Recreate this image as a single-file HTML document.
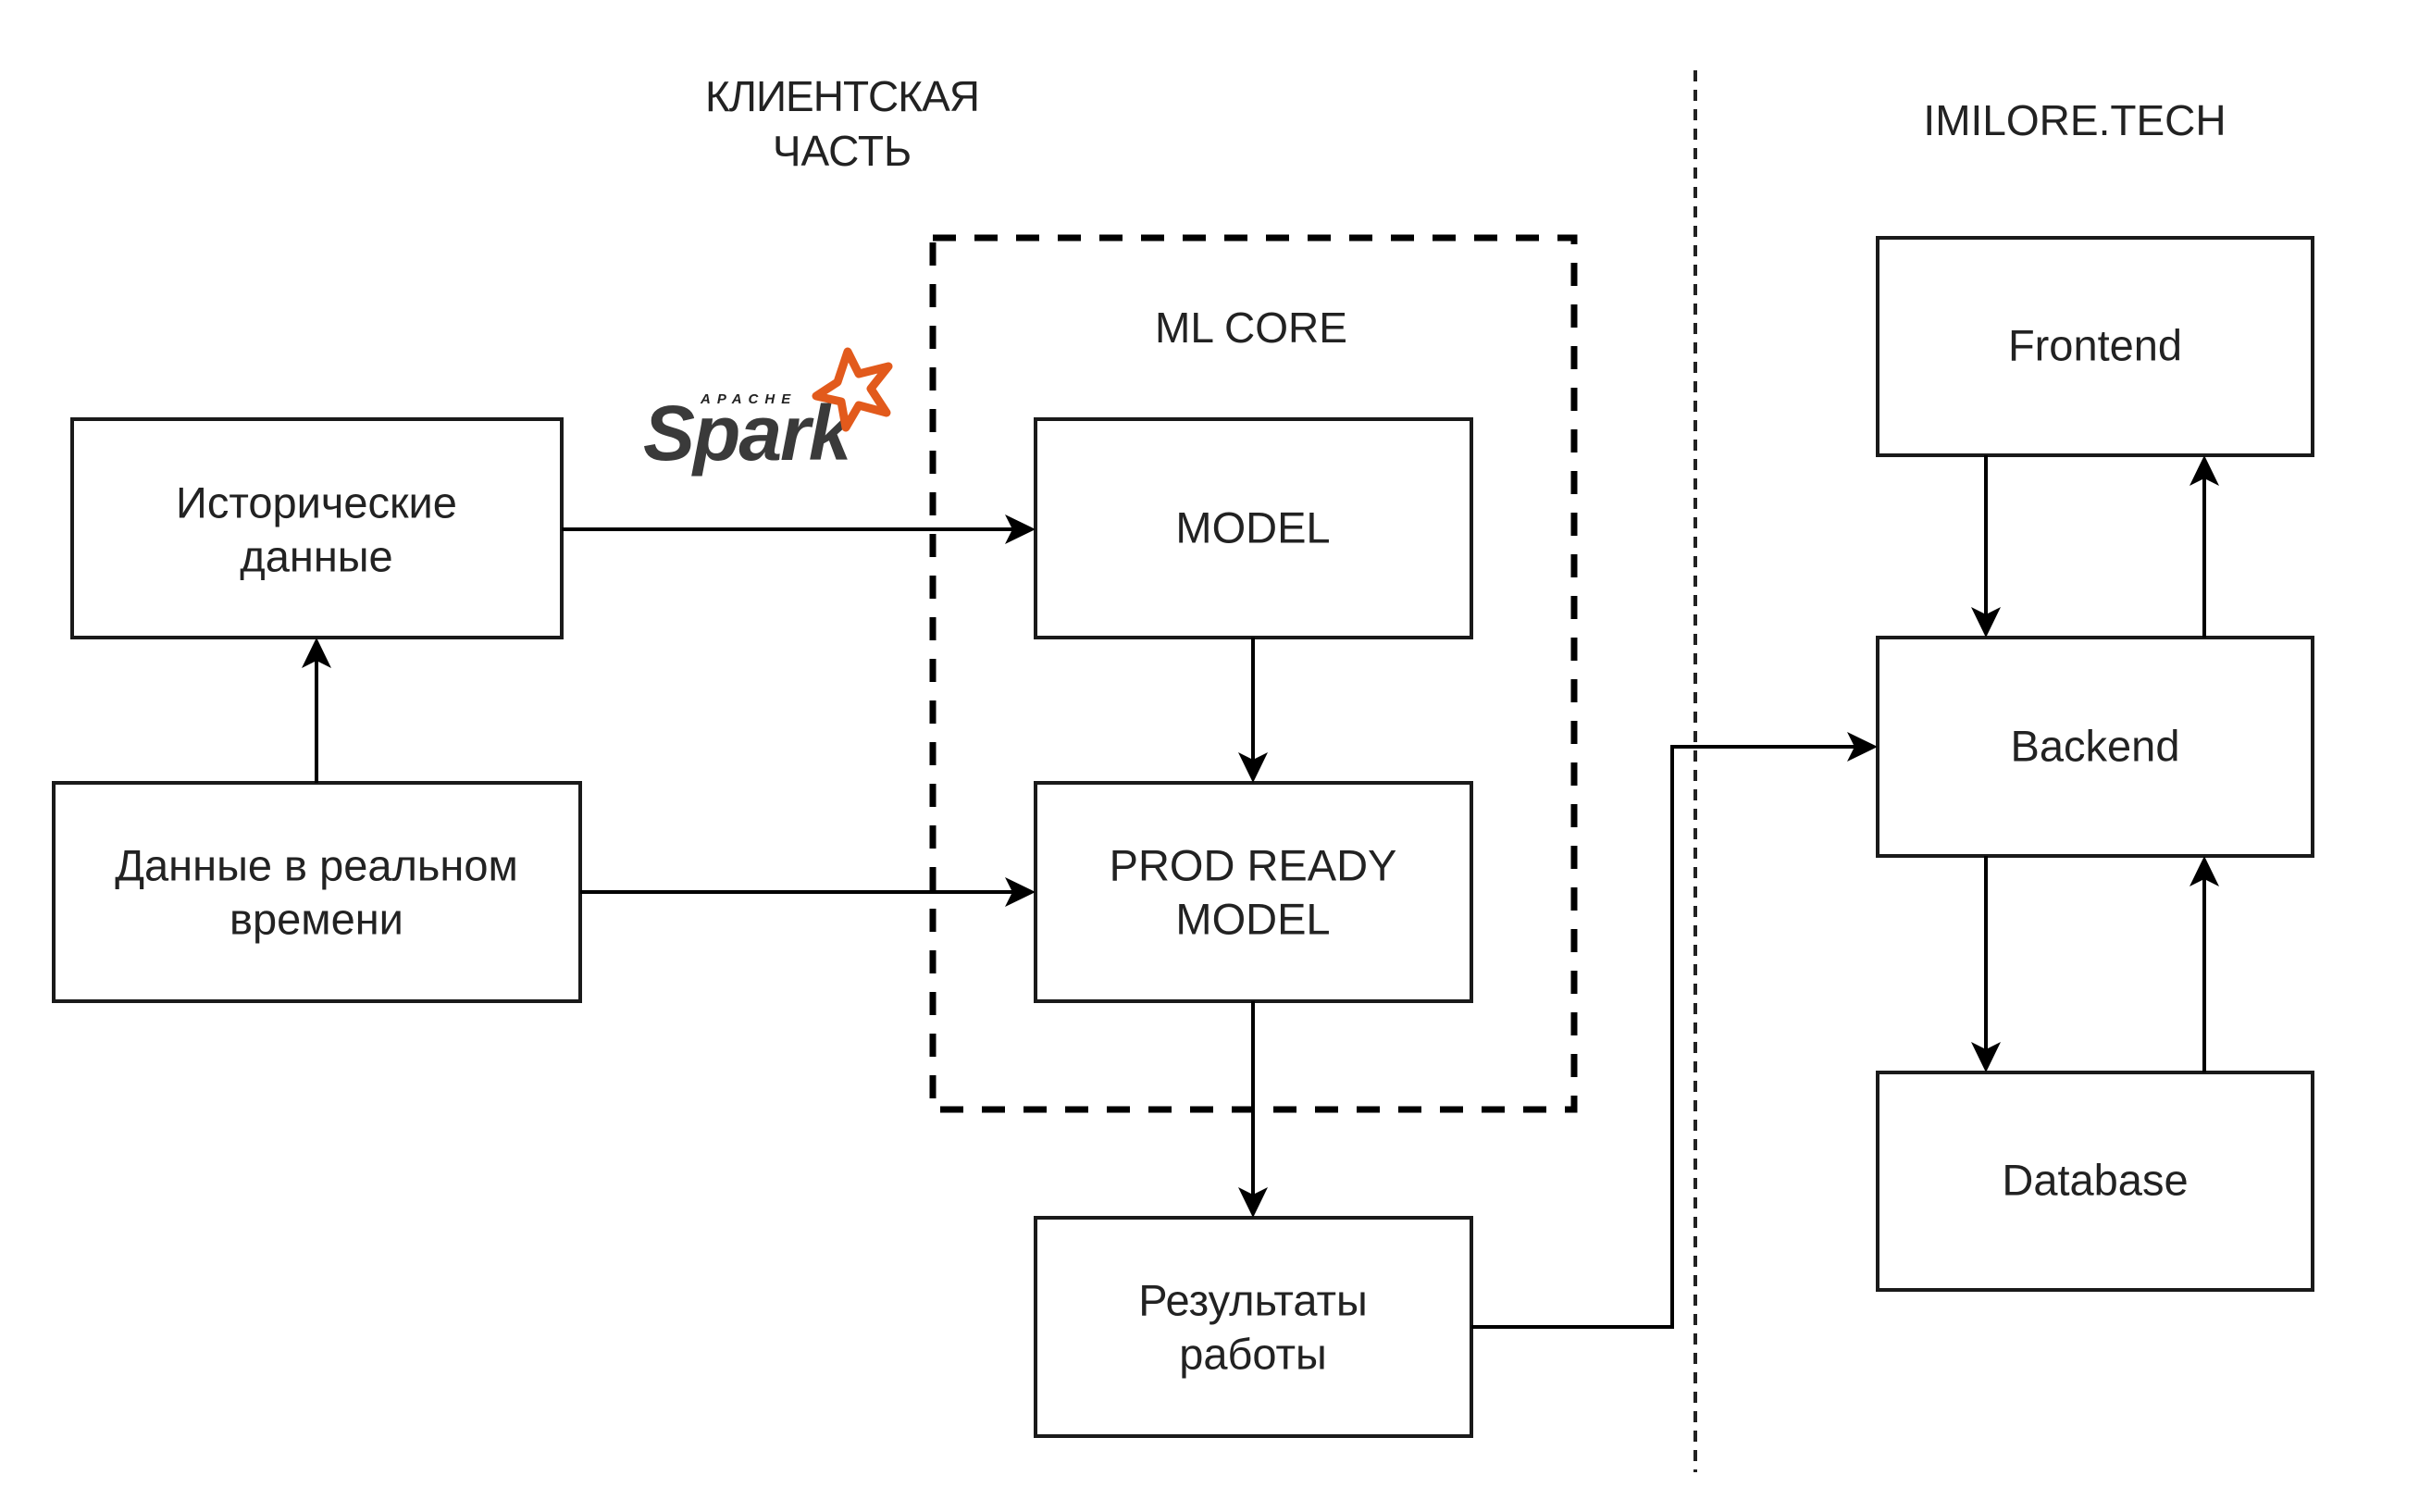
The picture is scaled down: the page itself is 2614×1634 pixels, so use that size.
<!DOCTYPE html>
<html><head><meta charset="utf-8"><style>
html,body{margin:0;padding:0;background:#fff;}
svg{display:block;}
text{font-family:"Liberation Sans",sans-serif;fill:#222;}
</style></head><body>
<svg width="2614" height="1634" viewBox="0 0 2614 1634" xmlns="http://www.w3.org/2000/svg">
<rect width="2614" height="1634" fill="#fff"/>

<!-- headers -->
<g font-size="46" text-anchor="middle" dominant-baseline="central">
<text x="910" y="104" letter-spacing="-1">КЛИЕНТСКАЯ</text>
<text x="910" y="163">ЧАСТЬ</text>
<text x="2242" y="130">IMILORE.TECH</text>
<text x="1352" y="354">ML CORE</text>
</g>

<!-- dotted divider -->
<line x1="1832" y1="76" x2="1832" y2="1591" stroke="#222" stroke-width="4" stroke-dasharray="12,9"/>

<!-- ML core dashed box -->
<rect x="1008" y="257" width="693" height="942" fill="none" stroke="#000" stroke-width="7" stroke-dasharray="25,20"/>

<!-- boxes -->
<g fill="#fff" stroke="#1a1a1a" stroke-width="4">
<rect x="78" y="453" width="529" height="236"/>
<rect x="58" y="846" width="569" height="236"/>
<rect x="1119" y="453" width="471" height="236"/>
<rect x="1119" y="846" width="471" height="236"/>
<rect x="1119" y="1316" width="471" height="236"/>
<rect x="2029" y="257" width="470" height="235"/>
<rect x="2029" y="689" width="470" height="236"/>
<rect x="2029" y="1159" width="470" height="235"/>
</g>

<g font-size="47" text-anchor="middle" dominant-baseline="central">
<text x="342" y="543">Исторические</text>
<text x="342" y="601">данные</text>
<text x="342" y="935">Данные в реальном</text>
<text x="342" y="993">времени</text>
<text x="1354" y="570">MODEL</text>
<text x="1354" y="935">PROD READY</text>
<text x="1354" y="993">MODEL</text>
<text x="1354" y="1405">Результаты</text>
<text x="1354" y="1463">работы</text>
<text x="2264" y="373">Frontend</text>
<text x="2264" y="806">Backend</text>
<text x="2264" y="1275">Database</text>
</g>

<!-- connectors -->
<g stroke="#000" stroke-width="4" fill="none">
<line x1="607" y1="572" x2="1100" y2="572"/>
<line x1="627" y1="964" x2="1100" y2="964"/>
<line x1="342" y1="846" x2="342" y2="710"/>
<line x1="1354" y1="689" x2="1354" y2="828"/>
<line x1="1354" y1="1082" x2="1354" y2="1298"/>
<polyline points="1590,1434 1807,1434 1807,807 2010,807"/>
<line x1="2146" y1="492" x2="2146" y2="670"/>
<line x1="2382" y1="689" x2="2382" y2="512"/>
<line x1="2146" y1="925" x2="2146" y2="1140"/>
<line x1="2382" y1="1159" x2="2382" y2="945"/>
</g>
<g fill="#000">
<path d="M1119,572 L1086,556 L1094,572 L1086,588 Z"/>
<path d="M1119,964 L1086,948 L1094,964 L1086,980 Z"/>
<path d="M2029,807 L1996,791 L2004,807 L1996,823 Z"/>
<path d="M342,689 L326,722 L342,714 L358,722 Z"/>
<path d="M2382,492 L2366,525 L2382,517 L2398,525 Z"/>
<path d="M2382,925 L2366,958 L2382,950 L2398,958 Z"/>
<path d="M1354,846 L1338,813 L1354,821 L1370,813 Z"/>
<path d="M1354,1316 L1338,1283 L1354,1291 L1370,1283 Z"/>
<path d="M2146,689 L2130,656 L2146,664 L2162,656 Z"/>
<path d="M2146,1159 L2130,1126 L2146,1134 L2162,1126 Z"/>
</g>

<!-- Spark logo -->
<g>
<text x="757" y="436" font-size="15" font-weight="bold" font-style="italic" fill="#444" letter-spacing="7">APACHE</text>
<text x="695" y="497" font-size="84" font-weight="bold" font-style="italic" letter-spacing="-2" style="fill:#3a3a3a">Spark</text>
<path d="M916,380 L928,404 L960,396 L941,420 L958,446 L928,438 L914,462 L909,434 L882,428 L905,413 Z" fill="none" stroke="#e25a1c" stroke-width="9" stroke-linejoin="round"/>
</g>
</svg>
</body></html>
